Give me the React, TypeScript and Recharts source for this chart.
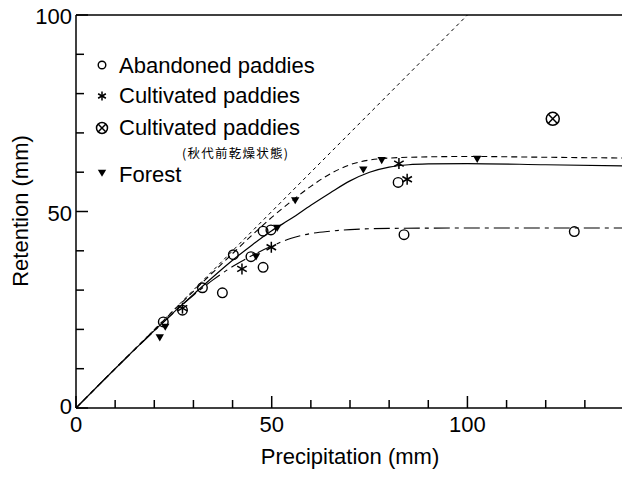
import React from 'react';
import { ComposedChart, Line, Scatter, XAxis, YAxis, ReferenceLine } from 'recharts';

const FONT = "'Liberation Sans', Arial, Helvetica, sans-serif";

// Observations
const abandonedPaddies = [
  { x: 22.3, y: 21.9 }, { x: 27.2, y: 24.9 }, { x: 32.3, y: 30.6 }, { x: 37.4, y: 29.3 },
  { x: 40.2, y: 39.0 }, { x: 44.7, y: 38.5 }, { x: 47.8, y: 35.8 }, { x: 47.8, y: 45.0 },
  { x: 49.8, y: 45.3 }, { x: 82.3, y: 57.4 }, { x: 83.8, y: 44.1 }, { x: 127.3, y: 44.9 },
];
const cultivatedPaddies = [
  { x: 27.2, y: 25.4 }, { x: 42.4, y: 35.4 }, { x: 49.9, y: 40.9 }, { x: 82.5, y: 62.2 }, { x: 84.6, y: 58.2 },
];
const cultivatedDry = [{ x: 121.8, y: 73.6 }];
const forest = [
  { x: 21.4, y: 17.9 }, { x: 22.8, y: 20.6 }, { x: 46.0, y: 38.5 }, { x: 51.4, y: 45.8 },
  { x: 56.0, y: 52.8 }, { x: 73.4, y: 60.6 }, { x: 78.1, y: 63.0 }, { x: 102.5, y: 63.3 },
];

// Curves
const identityLine = [{ x: 0, y: 0 }, { x: 100, y: 100 }];
const forestFit = [
  { x: 0, y: 0 }, { x: 10, y: 10 }, { x: 20, y: 19.9 }, { x: 30, y: 29.7 }, { x: 40, y: 39.3 },
  { x: 45, y: 44.0 }, { x: 50, y: 48.5 }, { x: 55, y: 52.6 }, { x: 60, y: 56.4 }, { x: 65, y: 59.6 },
  { x: 70, y: 61.9 }, { x: 75, y: 63.1 }, { x: 80, y: 63.6 }, { x: 90, y: 63.9 }, { x: 100, y: 64.0 },
  { x: 120, y: 63.8 }, { x: 140, y: 63.6 },
];
const cultivatedFit = [
  { x: 0, y: 0 }, { x: 10, y: 10 }, { x: 20, y: 19.7 }, { x: 30, y: 28.9 }, { x: 40, y: 37.6 },
  { x: 45, y: 41.5 }, { x: 50, y: 45.1 }, { x: 55, y: 48.2 }, { x: 60, y: 51.6 }, { x: 65, y: 54.8 },
  { x: 70, y: 57.8 }, { x: 75, y: 60.0 }, { x: 80, y: 61.3 }, { x: 85, y: 61.9 }, { x: 90, y: 62.1 },
  { x: 100, y: 62.2 }, { x: 120, y: 61.9 }, { x: 140, y: 61.6 },
];
const abandonedFit = [
  { x: 0, y: 0 }, { x: 10, y: 10 }, { x: 20, y: 19.6 }, { x: 30, y: 28.7 }, { x: 35, y: 32.6 },
  { x: 40, y: 36.0 }, { x: 45, y: 38.8 }, { x: 50, y: 41.2 }, { x: 55, y: 43.2 }, { x: 60, y: 44.4 },
  { x: 65, y: 45.0 }, { x: 70, y: 45.4 }, { x: 80, y: 45.7 }, { x: 100, y: 45.8 }, { x: 140, y: 45.8 },
];

const xTicks = [0, 10, 20, 30, 40, 50, 60, 70, 80, 90, 100, 110, 120, 130];
const yTicks = [0, 10, 20, 30, 40, 50, 60, 70, 80, 90, 100];
const labeledTicks = [0, 50, 100];

const legendItems = [
  { key: 'circle', label: 'Abandoned paddies' },
  { key: 'star', label: 'Cultivated paddies' },
  { key: 'dry', label: 'Cultivated paddies' },
  { key: 'tri', label: 'Forest' },
];
const drySubLabel = '(秋代前乾燥状態)';

const XTick = (props: any) => {
  const { x, y, payload } = props;
  const v = payload.value;
  const major = labeledTicks.includes(v);
  return (
    <g>
      <line x1={x} x2={x} y1={y} y2={y - (major ? 12 : 8)} stroke="#000" strokeWidth={1.5} />
      {major && (
        <text x={x} y={y + 24} textAnchor="middle" fontSize={22} fontFamily={FONT} fill="#000">{v}</text>
      )}
    </g>
  );
};

const YTick = (props: any) => {
  const { x, y, payload } = props;
  const v = payload.value;
  const major = labeledTicks.includes(v);
  return (
    <g>
      <line x1={x} x2={x + (major ? 12 : 8)} y1={y} y2={y} stroke="#000" strokeWidth={1.5} />
      {major && (
        <text x={x - 4} y={y + (v === 0 ? 6 : 9)} textAnchor="end" fontSize={22} fontFamily={FONT} fill="#000">{v}</text>
      )}
    </g>
  );
};

const drawCircle = (cx: number, cy: number, r: number) => (
  <circle cx={cx} cy={cy} r={r} fill="none" stroke="#000" strokeWidth={1.4} />
);
const drawStar = (cx: number, cy: number, r: number) => {
  const arms = [90, 30, -30].map((a) => {
    const rad = (a * Math.PI) / 180;
    return { dx: r * Math.cos(rad), dy: r * Math.sin(rad) };
  });
  return (
    <g stroke="#000" strokeWidth={1.5}>
      {arms.map((d, i) => (
        <line key={i} x1={cx - d.dx} y1={cy - d.dy} x2={cx + d.dx} y2={cy + d.dy} />
      ))}
    </g>
  );
};
const drawDry = (cx: number, cy: number, r: number) => {
  const k = r * 0.68;
  return (
    <g stroke="#000" strokeWidth={1.5} fill="none">
      <circle cx={cx} cy={cy} r={r} />
      <line x1={cx - k} y1={cy - k} x2={cx + k} y2={cy + k} />
      <line x1={cx - k} y1={cy + k} x2={cx + k} y2={cy - k} />
    </g>
  );
};
const drawTri = (cx: number, cy: number, w: number) => (
  <path d={`M${cx - w},${cy - w * 0.8} L${cx + w},${cy - w * 0.8} L${cx},${cy + w * 0.9} Z`} fill="#000" />
);

const CircleShape = (p: any) => drawCircle(p.cx, p.cy, 4.8);
const StarShape = (p: any) => drawStar(p.cx, p.cy, 5.5);
const DryShape = (p: any) => drawDry(p.cx, p.cy, 6.5);
const TriShape = (p: any) => drawTri(p.cx, p.cy, 4.2);

const legendY = [65, 96, 128, 173];
const legendBase = [73, 103, 135, 182];

export default function App() {
  return (
    <div style={{ position: 'absolute', left: 0, top: 0, width: 622, height: 477, overflow: 'hidden', background: '#fff' }}>
      <ComposedChart width={624} height={477} margin={{ top: 15, right: 0, bottom: 0, left: 0 }}>
        <XAxis
          type="number"
          dataKey="x"
          domain={[0, 140]}
          ticks={xTicks}
          interval={0}
          tickSize={0}
          tickMargin={0}
          tickLine={false}
          tick={(p: any) => <XTick {...p} />}
          axisLine={{ stroke: '#000', strokeWidth: 1.5 }}
          height={69}
          allowDataOverflow
        />
        <YAxis
          type="number"
          dataKey="y"
          domain={[0, 100]}
          ticks={yTicks}
          interval={0}
          tickSize={0}
          tickMargin={0}
          tickLine={false}
          tick={(p: any) => <YTick {...p} />}
          axisLine={{ stroke: '#000', strokeWidth: 1.5 }}
          width={76}
          allowDataOverflow
        />
        <ReferenceLine y={100} stroke="#000" strokeWidth={1.5} />
        <Line data={identityLine} dataKey="y" type="linear" stroke="#000" strokeWidth={1} strokeDasharray="3.5 3.5" dot={false} isAnimationActive={false} />
        <Line data={forestFit} dataKey="y" type="monotone" stroke="#000" strokeWidth={1.1} strokeDasharray="6 4" dot={false} isAnimationActive={false} />
        <Line data={cultivatedFit} dataKey="y" type="monotone" stroke="#000" strokeWidth={1.2} dot={false} isAnimationActive={false} />
        <Line data={abandonedFit} dataKey="y" type="monotone" stroke="#000" strokeWidth={1.1} strokeDasharray="16 5 4 5" dot={false} isAnimationActive={false} />
        <Scatter data={abandonedPaddies} dataKey="y" shape={CircleShape} isAnimationActive={false} />
        <Scatter data={cultivatedPaddies} dataKey="y" shape={StarShape} isAnimationActive={false} />
        <Scatter data={cultivatedDry} dataKey="y" shape={DryShape} isAnimationActive={false} />
        <Scatter data={forest} dataKey="y" shape={TriShape} isAnimationActive={false} />
      </ComposedChart>
      <svg width={622} height={477} style={{ position: 'absolute', left: 0, top: 0, pointerEvents: 'none' }}>
        {legendItems.map((item, i) => (
          <g key={i}>
            {item.key === 'circle' && drawCircle(102, legendY[i], 3.8)}
            {item.key === 'star' && drawStar(102, legendY[i], 4.5)}
            {item.key === 'dry' && drawDry(102, legendY[i], 5.5)}
            {item.key === 'tri' && drawTri(102, legendY[i], 4.2)}
            <text x={119} y={legendBase[i]} fontSize={22} fontFamily={FONT} fill="#000">{item.label}</text>
          </g>
        ))}
        <text x={182} y={158} fontSize={12.5} fontFamily="'Noto Sans CJK JP', 'Noto Sans CJK SC', sans-serif" fill="#000" textLength={106} lengthAdjust="spacing">{drySubLabel}</text>
        <text x={350} y={464} textAnchor="middle" fontSize={22} fontFamily={FONT} fill="#000">Precipitation (mm)</text>
        <text x={0} y={0} transform="translate(28,211) rotate(-90)" textAnchor="middle" fontSize={22} fontFamily={FONT} fill="#000">Retention (mm)</text>
      </svg>
    </div>
  );
}
